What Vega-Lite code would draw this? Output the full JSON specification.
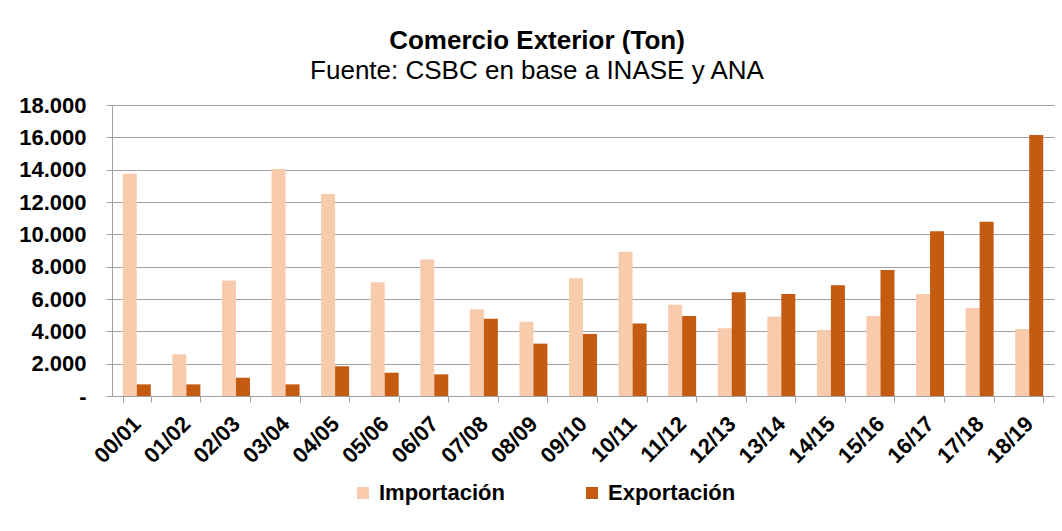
{
  "$schema": "https://vega.github.io/schema/vega-lite/v6.json",
  "autosize": "none",
  "width": 942,
  "height": 291,
  "padding": {"left": 112, "top": 105, "right": 8, "bottom": 135},
  "background": "white",
  "title": {
    "text": "Comercio Exterior (Ton)",
    "subtitle": "Fuente: CSBC en base a INASE y ANA",
    "anchor": "middle",
    "dx": -46,
    "offset": 10,
    "font": "Liberation Sans",
    "fontSize": 26,
    "fontWeight": "bold",
    "color": "#000000",
    "subtitleFont": "Liberation Sans",
    "subtitleFontSize": 26,
    "subtitleFontWeight": "normal",
    "subtitleColor": "#000000",
    "subtitlePadding": 4
  },
  "data": {
    "values": [
      {"periodo": "00/01", "serie": "Importación", "ton": 13750},
      {"periodo": "00/01", "serie": "Exportación", "ton": 720},
      {"periodo": "01/02", "serie": "Importación", "ton": 2580},
      {"periodo": "01/02", "serie": "Exportación", "ton": 720},
      {"periodo": "02/03", "serie": "Importación", "ton": 7150},
      {"periodo": "02/03", "serie": "Exportación", "ton": 1130},
      {"periodo": "03/04", "serie": "Importación", "ton": 14040},
      {"periodo": "03/04", "serie": "Exportación", "ton": 720},
      {"periodo": "04/05", "serie": "Importación", "ton": 12500},
      {"periodo": "04/05", "serie": "Exportación", "ton": 1840},
      {"periodo": "05/06", "serie": "Importación", "ton": 7030},
      {"periodo": "05/06", "serie": "Exportación", "ton": 1440},
      {"periodo": "06/07", "serie": "Importación", "ton": 8450},
      {"periodo": "06/07", "serie": "Exportación", "ton": 1340},
      {"periodo": "07/08", "serie": "Importación", "ton": 5360},
      {"periodo": "07/08", "serie": "Exportación", "ton": 4780},
      {"periodo": "08/09", "serie": "Importación", "ton": 4600},
      {"periodo": "08/09", "serie": "Exportación", "ton": 3240},
      {"periodo": "09/10", "serie": "Importación", "ton": 7280},
      {"periodo": "09/10", "serie": "Exportación", "ton": 3840},
      {"periodo": "10/11", "serie": "Importación", "ton": 8930},
      {"periodo": "10/11", "serie": "Exportación", "ton": 4490},
      {"periodo": "11/12", "serie": "Importación", "ton": 5650},
      {"periodo": "11/12", "serie": "Exportación", "ton": 4950},
      {"periodo": "12/13", "serie": "Importación", "ton": 4190},
      {"periodo": "12/13", "serie": "Exportación", "ton": 6410},
      {"periodo": "13/14", "serie": "Importación", "ton": 4910},
      {"periodo": "13/14", "serie": "Exportación", "ton": 6310},
      {"periodo": "14/15", "serie": "Importación", "ton": 4080},
      {"periodo": "14/15", "serie": "Exportación", "ton": 6850},
      {"periodo": "15/16", "serie": "Importación", "ton": 4950},
      {"periodo": "15/16", "serie": "Exportación", "ton": 7790},
      {"periodo": "16/17", "serie": "Importación", "ton": 6310},
      {"periodo": "16/17", "serie": "Exportación", "ton": 10190},
      {"periodo": "17/18", "serie": "Importación", "ton": 5440},
      {"periodo": "17/18", "serie": "Exportación", "ton": 10780},
      {"periodo": "18/19", "serie": "Importación", "ton": 4140},
      {"periodo": "18/19", "serie": "Exportación", "ton": 16140}
    ]
  },
  "mark": {"type": "bar"},
  "encoding": {
    "x": {
      "field": "periodo",
      "type": "nominal",
      "sort": null,
      "title": null,
      "scale": {"paddingInner": 0.435, "paddingOuter": 0.2175},
      "axis": {
        "labelAngle": -45,
        "labelAlign": "right",
        "labelBaseline": "middle",
        "labelPadding": 18,
        "labelFont": "Liberation Sans",
        "labelFontSize": 22,
        "labelFontWeight": "bold",
        "labelColor": "#000000",
        "tickBand": "extent",
        "tickSize": 6,
        "tickColor": "#a0a0a0",
        "domainColor": "#a0a0a0",
        "grid": false
      }
    },
    "xOffset": {
      "field": "serie",
      "type": "nominal",
      "sort": ["Importación", "Exportación"],
      "scale": {"paddingInner": 0, "paddingOuter": 0}
    },
    "y": {
      "field": "ton",
      "type": "quantitative",
      "title": null,
      "scale": {"domain": [0, 18000], "nice": false},
      "axis": {
        "values": [0, 2000, 4000, 6000, 8000, 10000, 12000, 14000, 16000, 18000],
        "labelExpr": "datum.value == 0 ? '-\u00a0\u00a0\u00a0' : replace(format(datum.value, ','), ',', '.')",
        "labelFont": "Liberation Sans",
        "labelFontSize": 22,
        "labelFontWeight": "bold",
        "labelColor": "#000000",
        "labelPadding": 20,
        "tickSize": 6,
        "tickColor": "#a0a0a0",
        "domainColor": "#a0a0a0",
        "gridColor": "#a0a0a0",
        "gridWidth": 1
      }
    },
    "color": {
      "field": "serie",
      "type": "nominal",
      "title": null,
      "scale": {"domain": ["Importación", "Exportación"], "range": ["#F8CBAD", "#C55A11"]},
      "legend": {
        "orient": "none",
        "legendX": 240,
        "legendY": 377,
        "direction": "horizontal",
        "symbolType": "square",
        "symbolSize": 144,
        "symbolStrokeWidth": 0,
        "labelFont": "Liberation Sans",
        "labelFontSize": 22,
        "labelFontWeight": "bold",
        "labelColor": "#000000",
        "labelOffset": 5,
        "columnPadding": 76,
        "padding": 0
      }
    }
  },
  "config": {
    "view": {"stroke": null},
    "axis": {"domainWidth": 1}
  }
}
